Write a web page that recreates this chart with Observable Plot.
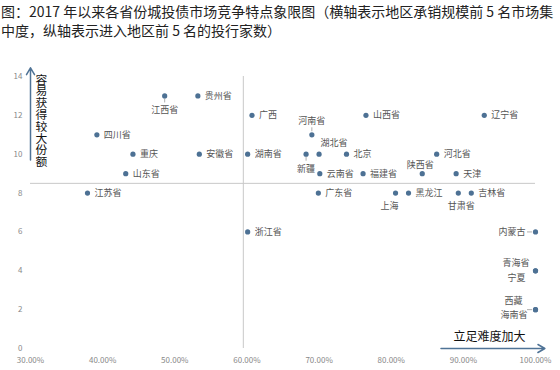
<!DOCTYPE html>
<html>
<head>
<meta charset="utf-8">
<script src="https://cdn.jsdelivr.net/npm/d3@7"></script>
<script src="https://cdn.jsdelivr.net/npm/@observablehq/plot@0.6"></script>
<style>
  html, body { margin: 0; padding: 0; background: #fff; }
  #title { height: 45px; box-sizing: border-box; padding: 2px 0 0 1px; font-family: "Noto Sans CJK SC", sans-serif; font-size: 14px; line-height: 19px; color: #222; white-space: nowrap; }
  #chart svg { display: block; }
  .ytitle text { writing-mode: vertical-rl; text-orientation: upright; }
</style>
</head>
<body>
<div id="title">图：2017 年以来各省份城投债市场竞争特点象限图（横轴表示地区承销规模前 5 名市场集<br>中度，纵轴表示进入地区前 5 名的投行家数）</div>
<div id="chart"></div>
<script>
// ---- data ----
const provinces = ["江苏省","山东省","四川省","重庆","江西省","贵州省","安徽省","湖南省","广西","浙江省",
  "河南省","新疆","湖北省","北京","云南省","福建省","山西省","陕西省","河北省","天津","辽宁省",
  "广东省","上海","黑龙江","甘肃省","吉林省","内蒙古","青海省","宁夏","西藏","海南省"];
const concentration = [37.9,43.2,39.2,44.2,48.6,53.2,53.4,60.1,60.7,60.1,
  69.0,68.2,70.0,73.8,70.1,76.1,76.5,84.3,86.3,89.0,92.9,
  69.9,80.6,82.4,89.3,91.1,100,100,100,100,100];
const bankCount = [8,9,11,10,13,13,10,10,12,6,
  11,10,10,10,9,9,12,9,10,9,12,
  8,8,8,8,8,6,4,4,2,2];
const xTicks = [30,40,50,60,70,80,90,100];
const yTicks = [0,2,4,6,8,10,12,14];
const xSplit = 59.5;   // quadrant divider (horizontal axis)
const ySplit = 8.5;    // quadrant divider (vertical axis)
const yAxisTitle = "容易获得较大份额";
const xAxisTitle = "立足难度加大";

const data = provinces.map((p, i) => ({name: p, x: concentration[i], y: bankCount[i]}));

// label placement (style)
const placements = [
  {names: ["江西省"], dx: 0, dy: 14, anchor: "middle"},
  {names: ["新疆"], dx: 0, dy: 15, anchor: "middle"},
  {names: ["甘肃省"], dx: 3, dy: 13, anchor: "middle"},
  {names: ["上海"], dx: -6, dy: 13, anchor: "middle"},
  {names: ["河南省"], dx: 0, dy: -14, anchor: "middle"},
  {names: ["陕西省"], dx: -2, dy: -9, anchor: "middle"},
  {names: ["湖北省"], dx: 15, dy: -11, anchor: "middle"},
  {names: ["内蒙古"], dx: -10, dy: 0, anchor: "end"},
  {names: ["青海省"], dx: -6, dy: -8, anchor: "end"},
  {names: ["宁夏"], dx: -10, dy: 7, anchor: "end"},
  {names: ["西藏"], dx: -13, dy: -9, anchor: "end"},
  {names: ["海南省"], dx: -8, dy: 5, anchor: "end"}
];
const special = new Set(placements.flatMap(p => p.names));

const dotColor = "#4d7194";
const labelColor = "#555";
const font = "Noto Sans CJK SC";

const labelMarks = placements.map(p => Plot.text(data.filter(d => p.names.includes(d.name)), {
  x: "x", y: "y", text: "name", dx: p.dx, dy: p.dy, textAnchor: p.anchor,
  fontSize: 9, fill: labelColor
}));

const chart = Plot.plot({
  width: 560,
  height: 325,
  marginTop: 31,
  marginBottom: 22,
  marginLeft: 30,
  marginRight: 25,
  style: {fontFamily: font, background: "#fff"},
  x: {domain: [30, 100], ticks: xTicks, tickFormat: d => d.toFixed(2) + "%", tickSize: 0, tickPadding: 9, label: null},
  y: {domain: [0, 14], ticks: yTicks, tickSize: 0, tickPadding: 8, label: null},
  marks: [
    Plot.axisX({ticks: xTicks, tickFormat: d => d.toFixed(2) + "%", tickSize: 0, tickPadding: 9, fontSize: 8, fill: "#888", label: null}),
    Plot.axisY({ticks: yTicks, tickSize: 0, tickPadding: 8, fontSize: 8, fill: "#888", label: null}),
    Plot.ruleY([ySplit], {x1: 30, x2: 100, stroke: "#c8c8c8", strokeWidth: 1}),
    Plot.ruleX([xSplit], {y1: 0, y2: 14, stroke: "#c8c8c8", strokeWidth: 1}),
    // leader lines
    Plot.ruleX(data.filter(d => ["江西省","新疆"].includes(d.name)), {x: "x", y1: "y", y2: "y", insetTop: 3, insetBottom: -7, stroke: "#999", strokeWidth: 0.8}),
    Plot.ruleX(data.filter(d => ["河南省"].includes(d.name)), {x: "x", y1: "y", y2: "y", insetTop: -7, insetBottom: 3, stroke: "#999", strokeWidth: 0.8}),
    Plot.ruleY(data.filter(d => ["内蒙古","海南省"].includes(d.name)), {y: "y", x1: "x", x2: "x", insetLeft: -8, insetRight: 3, stroke: "#999", strokeWidth: 0.8}),
    Plot.dot(data, {x: "x", y: "y", r: 2.6, fill: dotColor, stroke: "none"}),
    Plot.text(data.filter(d => !special.has(d.name)), {x: "x", y: "y", text: "name", dx: 7, textAnchor: "start", fontSize: 9, fill: labelColor}),
    ...labelMarks,
    // axis arrows
    Plot.arrow([{x1: 30, y1: 9.7, x2: 30, y2: 14.45}], {x1: "x1", y1: "y1", x2: "x2", y2: "y2", stroke: "#4f7396", strokeWidth: 1.5, headLength: 8}),
    Plot.arrow([{x1: 86.9, y1: 0, x2: 101.3, y2: 0}], {x1: "x1", y1: "y1", x2: "x2", y2: "y2", stroke: "#4f7396", strokeWidth: 1.5, headLength: 8, clip: false}),
    Plot.text([yAxisTitle], {frameAnchor: "top-left", dx: 11, dy: -7, lineAnchor: "middle", fontSize: 11.8, fill: "#111", textAnchor: "start", className: "ytitle"}),
    Plot.text([xAxisTitle], {frameAnchor: "bottom-right", dx: -10, dy: -8, textAnchor: "end", fontSize: 12, fill: "#111"})
  ]
});
document.getElementById("chart").appendChild(chart);
</script>
</body>
</html>
